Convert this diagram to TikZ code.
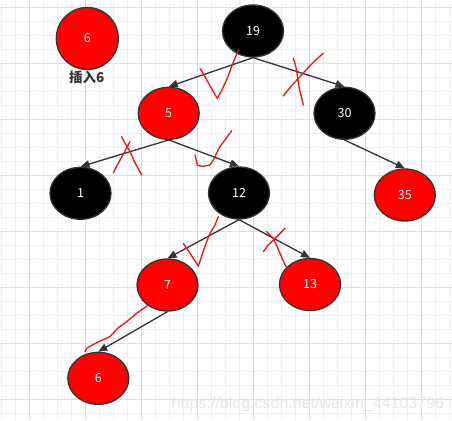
\documentclass[tikz,border=0pt]{standalone}
\usepackage{fontspec}
\setmainfont{Noto Sans CJK SC}
\newfontfamily\wmfont{Liberation Sans}
\usetikzlibrary{shapes.geometric,arrows.meta}
\definecolor{edgegray}{HTML}{333333}
\definecolor{labelgray}{HTML}{333333}
\definecolor{gridminor}{HTML}{EFEFEF}
\definecolor{gridmajor}{HTML}{DEDEDE}
\definecolor{rbred}{HTML}{FF0000}
\definecolor{penred}{HTML}{EE1111}
\definecolor{wmgray}{HTML}{E6E6E6}
\begin{document}
\begin{tikzpicture}[x=1pt,y=-1pt,
  rbnode/.style={ellipse, draw=edgegray, line width=1.3pt, minimum width=61pt,
    minimum height=52pt, inner sep=0pt, text=white, font=\fontsize{12.5}{14}\selectfont},
  rednode/.style={rbnode, fill=rbred},
  blacknode/.style={rbnode, fill=black},
  link/.style={draw=edgegray, line width=1.3pt, -{Triangle[length=9pt,width=7.5pt]}},
  pen/.style={draw=penred, line width=1.3pt, line cap=round, line join=round},
  minorline/.style={draw=gridminor, line width=0.9pt},
  majorline/.style={draw=gridmajor, line width=1pt},
]
\fill[white] (0,0) rectangle (452,420);
\useasboundingbox (0,0) rectangle (452,420);
% grid
\foreach \i in {0,...,32} \draw[minorline] (1.3+14*\i,0) -- (1.3+14*\i,420);
\foreach \j in {0,...,29} \draw[minorline] (0,7.3+14*\j) -- (452,7.3+14*\j);
\foreach \k in {0,...,7} \draw[majorline] (29.3+56*\k,0) -- (29.3+56*\k,420);
\foreach \k in {0,...,7} \draw[majorline] (0,7.3+56*\k) -- (452,7.3+56*\k);

% watermark
\node[anchor=base west, inner sep=0pt, text=wmgray, font=\wmfont\fontsize{16}{18}\selectfont]
  (wm) at (171.7,408) {https://blog.csdn.net/weixin\_44103796};

% nodes
\node[rednode, minimum width=62pt, minimum height=62pt] (ins) at (87.3,38.5) {6};
\node[anchor=center, inner sep=0pt, text=labelgray, font=\bfseries\fontsize{13.5}{15}\selectfont]
  (inslabel) at (86.7,77.5) {插入6};

\node[blacknode] (n19) at (253,31) {19};
\node[rednode]   (n5)  at (168.7,113.3) {5};
\node[blacknode] (n30) at (344.5,113.3) {30};
\node[blacknode] (n1)  at (80.5,193.3) {1};
\node[blacknode] (n12) at (239,193) {12};
\node[rednode]   (n35) at (404.8,195) {35};
\node[rednode]   (n7)  at (167.5,285) {7};
\node[rednode]   (n13) at (310,284.5) {13};
\node[rednode]   (n6)  at (98.3,378.3) {6};

% edges
\draw[link] (n19.south) -- (n5.north);
\draw[link] (n19.south) -- (n30.north);
\draw[link] (n5.south) -- (n1.north);
\draw[link] (n5.south) -- (n12.north);
\draw[link] (n30.south) -- (n35.north);
\draw[link] (n12.south) -- (n7.north);
\draw[link] (n12.south) -- (n13.north);
\draw[link] (n7.south) -- (n6.north);

% red hand marks
\draw[pen] (200,68.3) .. controls (206,78) and (212,90) .. (217.3,98.3)
  .. controls (222,90) and (228,78) .. (231,68) -- (238.3,50);
\draw[pen] (293.3,58.3) .. controls (297,68) and (297,75) .. (298.3,82)
  .. controls (299.5,92) and (302,98) .. (303.3,105);
\draw[pen] (323.3,53.3) .. controls (313,62) and (306,70) .. (300,76.7)
  .. controls (293,84) and (287,91) .. (283.3,96);
\draw[pen] (195,155) -- (197.3,165) -- (202,166.5) -- (210,165)
  .. controls (214,160) and (216,154) .. (219,148) -- (231.7,130.7);
\draw[pen] (121.7,136.7) .. controls (125,144) and (129,149) .. (131.7,155)
  .. controls (134,162) and (138,168) .. (141.7,175);
\draw[pen] (130,141.7) .. controls (126,149) and (123,155) .. (120,160) -- (113.3,172.7);
\draw[pen] (183.3,243.3) -- (190,253.3) -- (198.3,266)
  .. controls (201,259) and (205,245) .. (210,233.3) -- (215,225) -- (218.3,216.7);
\draw[pen] (266.7,231.7) -- (273.3,238.3) .. controls (276,244) and (278,249) .. (280,253.3)
  -- (285,265) -- (290,271.7);
\draw[pen] (285,228.3) -- (276.7,236.7) -- (268.3,245) -- (263.3,251.7);
\draw[pen] (148.3,305) -- (137,313) -- (126.7,321.7) -- (118,328) -- (110,336.7)
  -- (98,342) -- (86.7,348.3) -- (85,351.7);
\end{tikzpicture}
\end{document}
